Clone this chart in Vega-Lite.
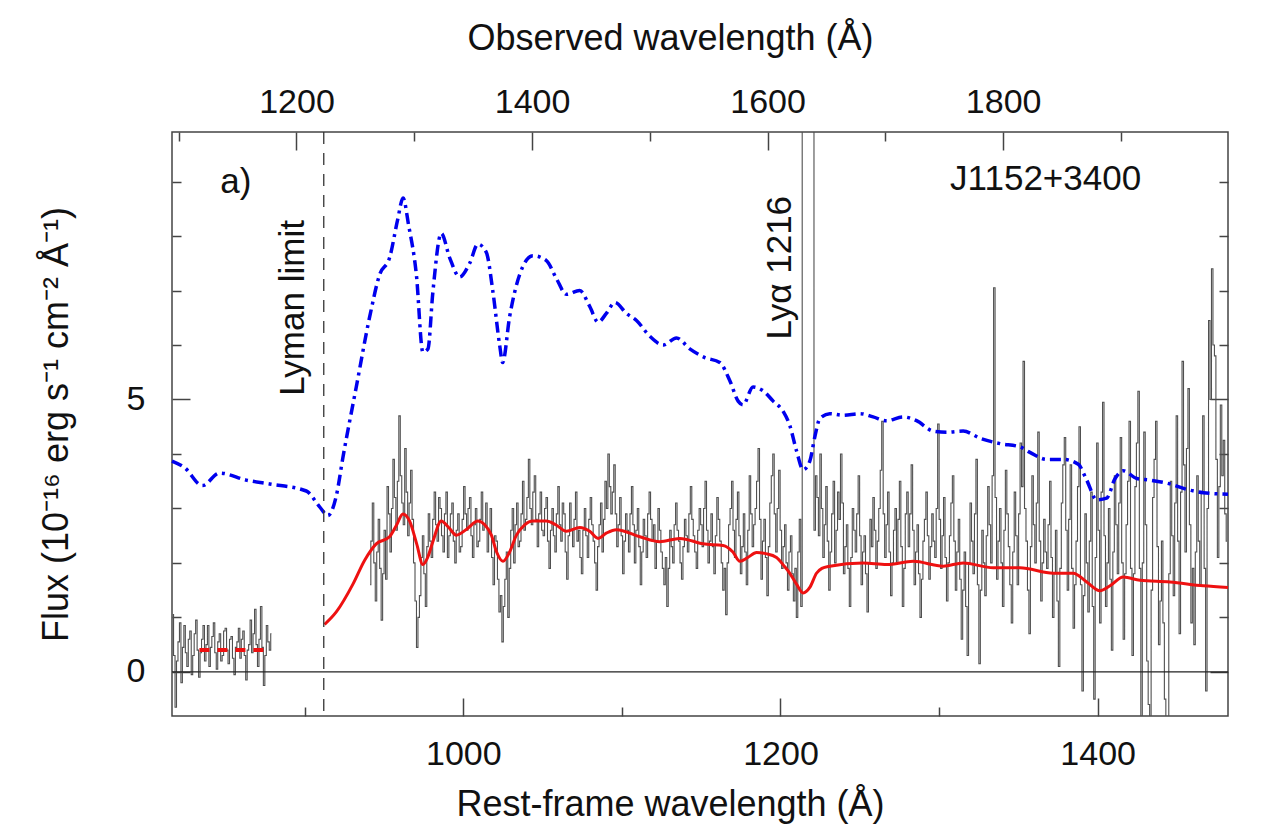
{
  "$schema": "https://vega.github.io/schema/vega-lite/v6.json",
  "width": 1056,
  "height": 584,
  "autosize": {"type": "none"},
  "padding": {"left": 172, "top": 132, "right": 44, "bottom": 111},
  "background": "white",
  "config": {
    "font": "Liberation Sans",
    "view": {"stroke": "#444444", "strokeWidth": 1.5},
    "axis": {
      "domain": false, "grid": false, "tickColor": "#444444", "tickWidth": 1.5,
      "labelFont": "Liberation Sans", "labelFontSize": 34, "labelColor": "#111111",
      "titleFont": "Liberation Sans", "titleFontSize": 36, "titleFontWeight": "normal", "titleColor": "#111111",
      "labelOverlap": false, "labelFlush": false
    }
  },
  "datasets": {
    "spec": [
      {"o":1095,"f":1.05,"s":1},{"o":1096.25,"f":0.3,"s":1},{"o":1097.5,"f":-0.65,"s":1},{"o":1098.75,"f":0.2,"s":1},
      {"o":1100,"f":0.55,"s":1},{"o":1101.25,"f":0.9,"s":1},{"o":1102.5,"f":-0.2,"s":1},{"o":1103.75,"f":0.45,"s":1},
      {"o":1105,"f":0.85,"s":1},{"o":1106.25,"f":0.35,"s":1},{"o":1107.5,"f":0.1,"s":1},{"o":1108.75,"f":0.6,"s":1},
      {"o":1110,"f":0.75,"s":1},{"o":1111.25,"f":-0.05,"s":1},{"o":1112.5,"f":0.3,"s":1},{"o":1113.75,"f":0.7,"s":1},
      {"o":1115,"f":0.95,"s":1},{"o":1116.25,"f":0.4,"s":1},{"o":1117.5,"f":-0.1,"s":1},{"o":1118.75,"f":0.35,"s":1},
      {"o":1120,"f":0.6,"s":1},{"o":1121.25,"f":0.85,"s":1},{"o":1122.5,"f":0.2,"s":1},{"o":1123.75,"f":0.5,"s":1},
      {"o":1125,"f":0.85,"s":1},{"o":1126.25,"f":0.1,"s":1},{"o":1127.5,"f":0.45,"s":1},{"o":1128.75,"f":0.65,"s":1},
      {"o":1130,"f":0.9,"s":1},{"o":1131.25,"f":0.35,"s":1},{"o":1132.5,"f":0.05,"s":1},{"o":1133.75,"f":0.55,"s":1},
      {"o":1135,"f":0.7,"s":1},{"o":1136.25,"f":0.2,"s":1},{"o":1137.5,"f":0.3,"s":1},{"o":1138.75,"f":0.75,"s":1},
      {"o":1140,"f":0.8,"s":1},{"o":1141.25,"f":0.4,"s":1},{"o":1142.5,"f":0.15,"s":1},{"o":1143.75,"f":0.6,"s":1},
      {"o":1145,"f":0.65,"s":1},{"o":1146.25,"f":0.25,"s":1},{"o":1147.5,"f":-0.05,"s":1},{"o":1148.75,"f":0.45,"s":1},
      {"o":1150,"f":0.55,"s":1},{"o":1151.25,"f":0.8,"s":1},{"o":1152.5,"f":0.25,"s":1},{"o":1153.75,"f":0.6,"s":1},
      {"o":1155,"f":0.75,"s":1},{"o":1156.25,"f":0.3,"s":1},{"o":1157.5,"f":-0.15,"s":1},{"o":1158.75,"f":0.4,"s":1},
      {"o":1160,"f":0.5,"s":1},{"o":1161.25,"f":0.95,"s":1},{"o":1162.5,"f":0.35,"s":1},{"o":1163.75,"f":0.7,"s":1},
      {"o":1165,"f":1.15,"s":1},{"o":1166.25,"f":0.5,"s":1},{"o":1167.5,"f":0.1,"s":1},{"o":1168.75,"f":0.6,"s":1},
      {"o":1170,"f":1.2,"s":1},{"o":1171.25,"f":0.45,"s":1},{"o":1172.5,"f":-0.25,"s":1},{"o":1173.75,"f":0.3,"s":1},
      {"o":1175,"f":0.85,"s":1},{"o":1176.25,"f":0.55,"s":1},{"o":1177.5,"f":0.4,"s":1},{"o":1178.75,"f":0.7,"s":1},

      {"o":1262.5,"f":1.6,"s":2},{"o":1263.75,"f":2.4,"s":2},{"o":1265,"f":3.1,"s":2},{"o":1266.25,"f":2.0,"s":2},
      {"o":1267.5,"f":1.3,"s":2},{"o":1268.75,"f":2.2,"s":2},{"o":1270,"f":2.8,"s":2},{"o":1271.25,"f":1.9,"s":2},
      {"o":1272.5,"f":0.95,"s":2},{"o":1273.75,"f":1.8,"s":2},{"o":1275,"f":2.6,"s":2},{"o":1276.25,"f":1.7,"s":2},
      {"o":1277.5,"f":3.4,"s":2},{"o":1278.75,"f":2.9,"s":2},{"o":1280,"f":2.2,"s":2},{"o":1281.25,"f":3.0,"s":2},
      {"o":1282.5,"f":3.9,"s":2},{"o":1283.75,"f":3.2,"s":2},{"o":1285,"f":2.6,"s":2},{"o":1286.25,"f":3.5,"s":2},
      {"o":1287.5,"f":4.7,"s":2},{"o":1288.75,"f":3.6,"s":2},{"o":1290,"f":3.1,"s":2},{"o":1291.25,"f":2.7,"s":2},
      {"o":1292.5,"f":4.1,"s":2},{"o":1293.75,"f":3.3,"s":2},{"o":1295,"f":2.5,"s":2},{"o":1296.25,"f":3.1,"s":2},
      {"o":1297.5,"f":3.7,"s":2},{"o":1298.75,"f":2.8,"s":2},{"o":1300,"f":2.0,"s":2},{"o":1301.25,"f":1.3,"s":2},
      {"o":1302.5,"f":0.45,"s":2},{"o":1303.75,"f":1.0,"s":2},{"o":1305,"f":1.4,"s":2},{"o":1306.25,"f":2.1,"s":2},
      {"o":1307.5,"f":2.5,"s":2},{"o":1308.75,"f":1.8,"s":2},{"o":1310,"f":1.2,"s":2},{"o":1311.25,"f":2.3,"s":2},
      {"o":1312.5,"f":2.9,"s":2},{"o":1313.75,"f":2.4,"s":2},{"o":1315,"f":2.1,"s":2},{"o":1316.25,"f":2.8,"s":2},
      {"o":1317.5,"f":3.3,"s":2},{"o":1318.75,"f":2.7,"s":2},{"o":1320,"f":2.4,"s":2},{"o":1321.25,"f":3.2,"s":2},
      {"o":1322.5,"f":3.0,"s":2},{"o":1323.75,"f":2.5,"s":2},{"o":1325,"f":2.2,"s":2},{"o":1326.25,"f":2.9,"s":2},
      {"o":1327.5,"f":3.3,"s":2},{"o":1328.75,"f":2.1,"s":2},{"o":1330,"f":2.5,"s":2},{"o":1331.25,"f":2.9,"s":2},
      {"o":1332.5,"f":3.1,"s":2},{"o":1333.75,"f":2.4,"s":2},{"o":1335,"f":2.0,"s":2},{"o":1336.25,"f":2.6,"s":2},
      {"o":1337.5,"f":2.9,"s":2},{"o":1338.75,"f":2.2,"s":2},{"o":1340,"f":2.3,"s":2},{"o":1341.25,"f":2.8,"s":2},
      {"o":1342.5,"f":3.4,"s":2},{"o":1343.75,"f":2.9,"s":2},{"o":1345,"f":2.6,"s":2},{"o":1346.25,"f":3.0,"s":2},
      {"o":1347.5,"f":3.2,"s":2},{"o":1348.75,"f":2.5,"s":2},{"o":1350,"f":2.1,"s":2},{"o":1351.25,"f":2.7,"s":2},
      {"o":1352.5,"f":3.0,"s":2},{"o":1353.75,"f":2.3,"s":2},{"o":1355,"f":2.4,"s":2},{"o":1356.25,"f":2.8,"s":2},
      {"o":1357.5,"f":3.3,"s":2},{"o":1358.75,"f":2.6,"s":2},{"o":1360,"f":2.7,"s":2},{"o":1361.25,"f":3.1,"s":2},
      {"o":1362.5,"f":2.2,"s":2},{"o":1363.75,"f":2.6,"s":2},{"o":1365,"f":3.0,"s":2},{"o":1366.25,"f":2.1,"s":2},
      {"o":1367.5,"f":1.6,"s":2},{"o":1368.75,"f":2.5,"s":2},{"o":1370,"f":2.4,"s":2},{"o":1371.25,"f":1.7,"s":2},
      {"o":1372.5,"f":1.1,"s":2},{"o":1373.75,"f":1.4,"s":2},{"o":1375,"f":0.55,"s":2},{"o":1376.25,"f":1.2,"s":2},
      {"o":1377.5,"f":1.7,"s":2},{"o":1378.75,"f":2.2,"s":2},{"o":1380,"f":1.0,"s":2},{"o":1381.25,"f":1.9,"s":2},
      {"o":1382.5,"f":2.6,"s":2},{"o":1383.75,"f":3.0,"s":2},{"o":1385,"f":2.0,"s":2},{"o":1386.25,"f":2.7,"s":2},
      {"o":1387.5,"f":3.1,"s":2},{"o":1388.75,"f":2.3,"s":2},{"o":1390,"f":2.4,"s":2},{"o":1391.25,"f":2.9,"s":2},
      {"o":1392.5,"f":3.5,"s":2},{"o":1393.75,"f":2.6,"s":2},{"o":1395,"f":2.8,"s":2},{"o":1396.25,"f":3.2,"s":2},
      {"o":1397.5,"f":3.9,"s":2},{"o":1398.75,"f":3.0,"s":2},{"o":1400,"f":2.7,"s":2},{"o":1401.25,"f":3.3,"s":2},
      {"o":1402.5,"f":3.6,"s":2},{"o":1403.75,"f":2.8,"s":2},{"o":1405,"f":2.3,"s":2},{"o":1406.25,"f":2.9,"s":2},
      {"o":1407.5,"f":3.3,"s":2},{"o":1408.75,"f":2.6,"s":2},{"o":1410,"f":2.5,"s":2},{"o":1411.25,"f":3.0,"s":2},
      {"o":1412.5,"f":3.2,"s":2},{"o":1413.75,"f":2.4,"s":2},{"o":1415,"f":1.9,"s":2},{"o":1416.25,"f":2.6,"s":2},
      {"o":1417.5,"f":3.0,"s":2},{"o":1418.75,"f":2.5,"s":2},{"o":1420,"f":2.2,"s":2},{"o":1421.25,"f":2.9,"s":2},
      {"o":1422.5,"f":3.4,"s":2},{"o":1423.75,"f":2.7,"s":2},{"o":1425,"f":2.4,"s":2},{"o":1426.25,"f":3.1,"s":2},
      {"o":1427.5,"f":2.9,"s":2},{"o":1428.75,"f":2.2,"s":2},{"o":1430,"f":1.7,"s":2},{"o":1431.25,"f":2.5,"s":2},
      {"o":1432.5,"f":3.1,"s":2},{"o":1433.75,"f":2.6,"s":2},{"o":1435,"f":2.3,"s":2},{"o":1436.25,"f":2.8,"s":2},
      {"o":1437.5,"f":3.3,"s":2},{"o":1438.75,"f":2.4,"s":2},{"o":1440,"f":2.6,"s":2},{"o":1441.25,"f":2.1,"s":2},
      {"o":1442.5,"f":1.8,"s":2},{"o":1443.75,"f":2.6,"s":2},{"o":1445,"f":3.0,"s":2},{"o":1446.25,"f":2.5,"s":2},
      {"o":1447.5,"f":2.1,"s":2},{"o":1448.75,"f":2.8,"s":2},{"o":1450,"f":3.2,"s":2},{"o":1451.25,"f":2.7,"s":2},
      {"o":1452.5,"f":2.4,"s":2},{"o":1453.75,"f":2.0,"s":2},{"o":1455,"f":1.5,"s":2},{"o":1456.25,"f":2.3,"s":2},
      {"o":1457.5,"f":2.7,"s":2},{"o":1458.75,"f":3.1,"s":2},{"o":1460,"f":2.2,"s":2},{"o":1461.25,"f":2.8,"s":2},
      {"o":1462.5,"f":3.5,"s":2},{"o":1463.75,"f":3.0,"s":2},{"o":1465,"f":4.0,"s":2},{"o":1466.25,"f":3.4,"s":2},
      {"o":1467.5,"f":2.9,"s":2},{"o":1468.75,"f":3.3,"s":2},{"o":1470,"f":3.8,"s":2},{"o":1471.25,"f":2.9,"s":2},
      {"o":1472.5,"f":2.3,"s":2},{"o":1473.75,"f":2.7,"s":2},{"o":1475,"f":3.2,"s":2},{"o":1476.25,"f":2.5,"s":2},
      {"o":1477.5,"f":1.8,"s":2},{"o":1478.75,"f":2.4,"s":2},{"o":1480,"f":2.9,"s":2},{"o":1481.25,"f":2.6,"s":2},
      {"o":1482.5,"f":2.2,"s":2},{"o":1483.75,"f":2.9,"s":2},{"o":1485,"f":3.4,"s":2},{"o":1486.25,"f":2.7,"s":2},
      {"o":1487.5,"f":2.0,"s":2},{"o":1488.75,"f":2.6,"s":2},{"o":1490,"f":3.0,"s":2},{"o":1491.25,"f":2.3,"s":2},
      {"o":1492.5,"f":1.6,"s":2},{"o":1493.75,"f":2.2,"s":2},{"o":1495,"f":2.8,"s":2},{"o":1496.25,"f":2.5,"s":2},
      {"o":1497.5,"f":2.1,"s":2},{"o":1498.75,"f":2.9,"s":2},{"o":1500,"f":3.3,"s":2},{"o":1501.25,"f":2.8,"s":2},
      {"o":1502.5,"f":2.4,"s":2},{"o":1503.75,"f":2.7,"s":2},{"o":1505,"f":1.9,"s":2},{"o":1506.25,"f":2.4,"s":2},
      {"o":1507.5,"f":3.0,"s":2},{"o":1508.75,"f":2.6,"s":2},{"o":1510,"f":2.2,"s":2},{"o":1511.25,"f":1.9,"s":2},
      {"o":1512.5,"f":1.6,"s":2},{"o":1513.75,"f":2.1,"s":2},{"o":1515,"f":1.2,"s":2},{"o":1516.25,"f":1.9,"s":2},
      {"o":1517.5,"f":2.6,"s":2},{"o":1518.75,"f":2.3,"s":2},{"o":1520,"f":2.0,"s":2},{"o":1521.25,"f":2.7,"s":2},
      {"o":1522.5,"f":3.1,"s":2},{"o":1523.75,"f":2.6,"s":2},{"o":1525,"f":2.4,"s":2},{"o":1526.25,"f":2.0,"s":2},
      {"o":1527.5,"f":1.7,"s":2},{"o":1528.75,"f":2.3,"s":2},{"o":1530,"f":2.8,"s":2},{"o":1531.25,"f":2.5,"s":2},
      {"o":1532.5,"f":2.2,"s":2},{"o":1533.75,"f":2.9,"s":2},{"o":1535,"f":3.4,"s":2},{"o":1536.25,"f":2.8,"s":2},
      {"o":1537.5,"f":2.5,"s":2},{"o":1538.75,"f":2.2,"s":2},{"o":1540,"f":1.9,"s":2},{"o":1541.25,"f":2.6,"s":2},
      {"o":1542.5,"f":3.0,"s":2},{"o":1543.75,"f":2.7,"s":2},{"o":1545,"f":2.3,"s":2},{"o":1546.25,"f":3.0,"s":2},
      {"o":1547.5,"f":3.5,"s":2},{"o":1548.75,"f":2.6,"s":2},{"o":1550,"f":2.0,"s":2},{"o":1551.25,"f":2.4,"s":2},
      {"o":1552.5,"f":2.9,"s":2},{"o":1553.75,"f":2.3,"s":2},{"o":1555,"f":1.8,"s":2},{"o":1556.25,"f":2.5,"s":2},
      {"o":1557.5,"f":3.2,"s":2},{"o":1558.75,"f":2.8,"s":2},{"o":1560,"f":2.4,"s":2},{"o":1561.25,"f":2.0,"s":2},
      {"o":1562.5,"f":1.5,"s":2},{"o":1563.75,"f":1.9,"s":2},{"o":1565,"f":1.05,"s":2},{"o":1566.25,"f":2.0,"s":2},
      {"o":1567.5,"f":2.7,"s":2},{"o":1568.75,"f":3.0,"s":2},{"o":1570,"f":3.5,"s":2},{"o":1571.25,"f":2.6,"s":2},
      {"o":1572.5,"f":2.1,"s":2},{"o":1573.75,"f":2.8,"s":2},{"o":1575,"f":3.3,"s":2},{"o":1576.25,"f":2.5,"s":2},
      {"o":1577.5,"f":1.8,"s":2},{"o":1578.75,"f":2.3,"s":2},{"o":1580,"f":2.9,"s":2},{"o":1581.25,"f":2.2,"s":2},
      {"o":1582.5,"f":1.6,"s":2},{"o":1583.75,"f":2.6,"s":2},{"o":1585,"f":3.6,"s":2},{"o":1586.25,"f":2.9,"s":2},
      {"o":1587.5,"f":2.3,"s":2},{"o":1588.75,"f":2.7,"s":2},{"o":1590,"f":3.0,"s":2},{"o":1591.25,"f":3.5,"s":2},
      {"o":1592.5,"f":4.1,"s":2},{"o":1593.75,"f":2.8,"s":2},{"o":1595,"f":1.7,"s":2},{"o":1596.25,"f":2.4,"s":2},
      {"o":1597.5,"f":2.8,"s":2},{"o":1598.75,"f":2.1,"s":2},{"o":1600,"f":1.4,"s":2},{"o":1601.25,"f":2.3,"s":2},
      {"o":1602.5,"f":3.1,"s":2},{"o":1603.75,"f":3.6,"s":2},{"o":1605,"f":4.0,"s":2},{"o":1606.25,"f":2.9,"s":2},
      {"o":1607.5,"f":2.2,"s":2},{"o":1608.75,"f":3.0,"s":2},{"o":1610,"f":3.7,"s":2},{"o":1611.25,"f":2.6,"s":2},
      {"o":1612.5,"f":1.9,"s":2},{"o":1613.75,"f":2.3,"s":2},{"o":1615,"f":2.7,"s":2},{"o":1616.25,"f":2.0,"s":2},
      {"o":1617.5,"f":1.5,"s":2},{"o":1618.75,"f":2.2,"s":2},{"o":1620,"f":2.5,"s":2},{"o":1621.25,"f":1.8,"s":2},
      {"o":1622.5,"f":1.3,"s":2},{"o":1623.75,"f":1.9,"s":2},{"o":1625,"f":1.0,"s":2},{"o":1626.25,"f":2.2,"s":2},
      {"o":1627.5,"f":2.8,"s":2},{"o":1628.75,"f":1.2,"s":2},{"o":1630,"f":14,"s":2},{"o":1631.25,"f":17,"s":2},
      {"o":1632.5,"f":19,"s":2},{"o":1633.75,"f":18,"s":2},{"o":1635,"f":17,"s":2},{"o":1636.25,"f":15,"s":2},
      {"o":1637.5,"f":13,"s":2},{"o":1638.75,"f":11,"s":2},{"o":1640,"f":2.6,"s":2},{"o":1641.25,"f":3.6,"s":2},
      {"o":1642.5,"f":3.2,"s":2},{"o":1643.75,"f":2.5,"s":2},{"o":1645,"f":4.0,"s":2},{"o":1646.25,"f":3.0,"s":2},
      {"o":1647.5,"f":2.1,"s":2},{"o":1648.75,"f":2.7,"s":2},{"o":1650,"f":3.4,"s":2},{"o":1651.25,"f":2.4,"s":2},
      {"o":1652.5,"f":1.5,"s":2},{"o":1653.75,"f":2.2,"s":2},{"o":1655,"f":2.9,"s":2},{"o":1656.25,"f":3.5,"s":2},
      {"o":1657.5,"f":2.0,"s":2},{"o":1658.75,"f":2.6,"s":2},{"o":1660,"f":3.3,"s":2},{"o":1661.25,"f":2.8,"s":2},
      {"o":1662.5,"f":4.0,"s":2},{"o":1663.75,"f":3.1,"s":2},{"o":1665,"f":1.8,"s":2},{"o":1666.25,"f":2.3,"s":2},
      {"o":1667.5,"f":2.7,"s":2},{"o":1668.75,"f":1.9,"s":2},{"o":1670,"f":1.2,"s":2},{"o":1671.25,"f":2.1,"s":2},
      {"o":1672.5,"f":3.0,"s":2},{"o":1673.75,"f":2.6,"s":2},{"o":1675,"f":2.2,"s":2},{"o":1676.25,"f":2.9,"s":2},
      {"o":1677.5,"f":3.6,"s":2},{"o":1678.75,"f":2.5,"s":2},{"o":1680,"f":1.6,"s":2},{"o":1681.25,"f":2.2,"s":2},
      {"o":1682.5,"f":2.5,"s":2},{"o":1683.75,"f":1.8,"s":2},{"o":1685,"f":1.1,"s":2},{"o":1686.25,"f":2.0,"s":2},
      {"o":1687.5,"f":2.8,"s":2},{"o":1688.75,"f":2.3,"s":2},{"o":1690,"f":3.2,"s":2},{"o":1691.25,"f":2.6,"s":2},
      {"o":1692.5,"f":1.9,"s":2},{"o":1693.75,"f":2.4,"s":2},{"o":1695,"f":3.0,"s":2},{"o":1696.25,"f":3.7,"s":2},
      {"o":1697.5,"f":4.6,"s":2},{"o":1698.75,"f":2.9,"s":2},{"o":1700,"f":2.1,"s":2},{"o":1701.25,"f":2.7,"s":2},
      {"o":1702.5,"f":3.3,"s":2},{"o":1703.75,"f":2.2,"s":2},{"o":1705,"f":1.4,"s":2},{"o":1706.25,"f":2.0,"s":2},
      {"o":1707.5,"f":2.6,"s":2},{"o":1708.75,"f":3.0,"s":2},{"o":1710,"f":2.0,"s":2},{"o":1711.25,"f":2.8,"s":2},
      {"o":1712.5,"f":3.5,"s":2},{"o":1713.75,"f":2.3,"s":2},{"o":1715,"f":1.2,"s":2},{"o":1716.25,"f":1.9,"s":2},
      {"o":1717.5,"f":2.9,"s":2},{"o":1718.75,"f":3.3,"s":2},{"o":1720,"f":2.3,"s":2},{"o":1721.25,"f":2.9,"s":2},
      {"o":1722.5,"f":3.8,"s":2},{"o":1723.75,"f":2.6,"s":2},{"o":1725,"f":1.6,"s":2},{"o":1726.25,"f":2.2,"s":2},
      {"o":1727.5,"f":2.7,"s":2},{"o":1728.75,"f":1.8,"s":2},{"o":1730,"f":1.0,"s":2},{"o":1731.25,"f":1.7,"s":2},
      {"o":1732.5,"f":2.4,"s":2},{"o":1733.75,"f":2.8,"s":2},{"o":1735,"f":3.3,"s":2},{"o":1736.25,"f":2.5,"s":2},
      {"o":1737.5,"f":1.7,"s":2},{"o":1738.75,"f":2.3,"s":2},{"o":1740,"f":2.9,"s":2},{"o":1741.25,"f":2.4,"s":2},
      {"o":1742.5,"f":2.1,"s":2},{"o":1743.75,"f":3.0,"s":2},{"o":1745,"f":4.55,"s":2},{"o":1746.25,"f":2.8,"s":2},
      {"o":1747.5,"f":1.9,"s":2},{"o":1748.75,"f":2.5,"s":2},{"o":1750,"f":3.2,"s":2},{"o":1751.25,"f":2.1,"s":2},
      {"o":1752.5,"f":1.3,"s":2},{"o":1753.75,"f":2.0,"s":2},{"o":1755,"f":2.5,"s":2},{"o":1756.25,"f":3.1,"s":2},
      {"o":1757.5,"f":3.6,"s":2},{"o":1758.75,"f":2.4,"s":2},{"o":1760,"f":1.5,"s":2},{"o":1761.25,"f":2.2,"s":2},
      {"o":1762.5,"f":2.8,"s":2},{"o":1763.75,"f":1.7,"s":2},{"o":1765,"f":0.6,"s":2},{"o":1766.25,"f":1.5,"s":2},
      {"o":1767.5,"f":2.2,"s":2},{"o":1768.75,"f":1.2,"s":2},{"o":1770,"f":0.3,"s":2},{"o":1771.25,"f":2.0,"s":2},
      {"o":1772.5,"f":3.1,"s":2},{"o":1773.75,"f":2.4,"s":2},{"o":1775,"f":1.8,"s":2},{"o":1776.25,"f":2.9,"s":2},
      {"o":1777.5,"f":3.9,"s":2},{"o":1778.75,"f":1.6,"s":2},{"o":1780,"f":0.15,"s":2},{"o":1781.25,"f":1.5,"s":2},
      {"o":1782.5,"f":2.6,"s":2},{"o":1783.75,"f":2.0,"s":2},{"o":1785,"f":1.4,"s":2},{"o":1786.25,"f":2.5,"s":2},
      {"o":1787.5,"f":3.4,"s":2},{"o":1788.75,"f":2.7,"s":2},{"o":1790,"f":2.0,"s":2},{"o":1791.25,"f":3.6,"s":2},
      {"o":1792.5,"f":7.05,"s":2},{"o":1793.75,"f":3.2,"s":2},{"o":1795,"f":1.7,"s":2},{"o":1796.25,"f":2.4,"s":2},
      {"o":1797.5,"f":3.0,"s":2},{"o":1798.75,"f":2.0,"s":2},{"o":1800,"f":1.2,"s":2},{"o":1801.25,"f":2.6,"s":2},
      {"o":1802.5,"f":3.7,"s":2},{"o":1803.75,"f":2.9,"s":2},{"o":1805,"f":2.3,"s":2},{"o":1806.25,"f":1.6,"s":2},
      {"o":1807.5,"f":0.9,"s":2},{"o":1808.75,"f":2.2,"s":2},{"o":1810,"f":3.3,"s":2},{"o":1811.25,"f":2.5,"s":2},
      {"o":1812.5,"f":1.6,"s":2},{"o":1813.75,"f":2.9,"s":2},{"o":1815,"f":4.2,"s":2},{"o":1816.25,"f":3.4,"s":2},
      {"o":1817.5,"f":5.7,"s":2},{"o":1818.75,"f":3.0,"s":2},{"o":1820,"f":2.4,"s":2},{"o":1821.25,"f":1.5,"s":2},
      {"o":1822.5,"f":0.7,"s":2},{"o":1823.75,"f":2.3,"s":2},{"o":1825,"f":3.6,"s":2},{"o":1826.25,"f":2.7,"s":2},
      {"o":1827.5,"f":2.0,"s":2},{"o":1828.75,"f":3.1,"s":2},{"o":1830,"f":4.4,"s":2},{"o":1831.25,"f":2.4,"s":2},
      {"o":1832.5,"f":1.3,"s":2},{"o":1833.75,"f":2.0,"s":2},{"o":1835,"f":2.8,"s":2},{"o":1836.25,"f":2.2,"s":2},
      {"o":1837.5,"f":1.9,"s":2},{"o":1838.75,"f":2.7,"s":2},{"o":1840,"f":3.5,"s":2},{"o":1841.25,"f":2.1,"s":2},
      {"o":1842.5,"f":1.0,"s":2},{"o":1843.75,"f":1.8,"s":2},{"o":1845,"f":2.6,"s":2},{"o":1846.25,"f":1.3,"s":2},
      {"o":1847.5,"f":0.1,"s":2},{"o":1848.75,"f":1.9,"s":2},{"o":1850,"f":3.1,"s":2},{"o":1851.25,"f":3.8,"s":2},
      {"o":1852.5,"f":4.3,"s":2},{"o":1853.75,"f":2.6,"s":2},{"o":1855,"f":1.5,"s":2},{"o":1856.25,"f":2.8,"s":2},
      {"o":1857.5,"f":3.8,"s":2},{"o":1858.75,"f":1.9,"s":2},{"o":1860,"f":0.8,"s":2},{"o":1861.25,"f":1.6,"s":2},
      {"o":1862.5,"f":2.4,"s":2},{"o":1863.75,"f":3.4,"s":2},{"o":1865,"f":4.5,"s":2},{"o":1866.25,"f":1.6,"s":2},
      {"o":1867.5,"f":-0.35,"s":2},{"o":1868.75,"f":1.4,"s":2},{"o":1870,"f":2.9,"s":2},{"o":1871.25,"f":2.0,"s":2},
      {"o":1872.5,"f":1.1,"s":2},{"o":1873.75,"f":2.4,"s":2},{"o":1875,"f":3.3,"s":2},{"o":1876.25,"f":1.2,"s":2},
      {"o":1877.5,"f":-0.5,"s":2},{"o":1878.75,"f":2.1,"s":2},{"o":1880,"f":4.2,"s":2},{"o":1881.25,"f":2.6,"s":2},
      {"o":1882.5,"f":0.9,"s":2},{"o":1883.75,"f":3.3,"s":2},{"o":1885,"f":4.95,"s":2},{"o":1886.25,"f":2.5,"s":2},
      {"o":1887.5,"f":1.2,"s":2},{"o":1888.75,"f":2.0,"s":2},{"o":1890,"f":3.0,"s":2},{"o":1891.25,"f":1.7,"s":2},
      {"o":1892.5,"f":0.4,"s":2},{"o":1893.75,"f":2.2,"s":2},{"o":1895,"f":3.6,"s":2},{"o":1896.25,"f":2.7,"s":2},
      {"o":1897.5,"f":1.8,"s":2},{"o":1898.75,"f":3.1,"s":2},{"o":1900,"f":4.3,"s":2},{"o":1901.25,"f":2.0,"s":2},
      {"o":1902.5,"f":0.6,"s":2},{"o":1903.75,"f":1.8,"s":2},{"o":1905,"f":2.7,"s":2},{"o":1906.25,"f":3.5,"s":2},
      {"o":1907.5,"f":4.6,"s":2},{"o":1908.75,"f":1.9,"s":2},{"o":1910,"f":0.3,"s":2},{"o":1911.25,"f":1.8,"s":2},
      {"o":1912.5,"f":3.4,"s":2},{"o":1913.75,"f":4.2,"s":2},{"o":1915,"f":5.15,"s":2},{"o":1916.25,"f":1.9,"s":2},
      {"o":1917.5,"f":-1.5,"s":2},{"o":1918.75,"f":2.0,"s":2},{"o":1920,"f":4.4,"s":2},{"o":1921.25,"f":2.7,"s":2},
      {"o":1922.5,"f":0.2,"s":2},{"o":1923.75,"f":-0.6,"s":2},{"o":1925,"f":-1.2,"s":2},{"o":1926.25,"f":1.5,"s":2},
      {"o":1927.5,"f":3.2,"s":2},{"o":1928.75,"f":3.9,"s":2},{"o":1930,"f":4.6,"s":2},{"o":1931.25,"f":2.3,"s":2},
      {"o":1932.5,"f":0.5,"s":2},{"o":1933.75,"f":1.3,"s":2},{"o":1935,"f":2.4,"s":2},{"o":1936.25,"f":0.9,"s":2},
      {"o":1937.5,"f":-0.5,"s":2},{"o":1938.75,"f":-1.0,"s":2},{"o":1940,"f":-1.3,"s":2},{"o":1941.25,"f":1.8,"s":2},
      {"o":1942.5,"f":3.5,"s":2},{"o":1943.75,"f":2.5,"s":2},{"o":1945,"f":1.4,"s":2},{"o":1946.25,"f":3.1,"s":2},
      {"o":1947.5,"f":4.7,"s":2},{"o":1948.75,"f":2.4,"s":2},{"o":1950,"f":0.7,"s":2},{"o":1951.25,"f":3.3,"s":2},
      {"o":1952.5,"f":5.7,"s":2},{"o":1953.75,"f":3.8,"s":2},{"o":1955,"f":2.2,"s":2},{"o":1956.25,"f":4.1,"s":2},
      {"o":1957.5,"f":5.2,"s":2},{"o":1958.75,"f":2.7,"s":2},{"o":1960,"f":0.9,"s":2},{"o":1961.25,"f":1.9,"s":2},
      {"o":1962.5,"f":0.5,"s":2},{"o":1963.75,"f":2.2,"s":2},{"o":1965,"f":3.6,"s":2},{"o":1966.25,"f":2.4,"s":2},
      {"o":1967.5,"f":1.6,"s":2},{"o":1968.75,"f":3.3,"s":2},{"o":1970,"f":4.7,"s":2},{"o":1971.25,"f":1.9,"s":2},
      {"o":1972.5,"f":-0.35,"s":2},{"o":1973.75,"f":3.0,"s":2},{"o":1975,"f":6.45,"s":2},{"o":1976.25,"f":5.0,"s":2},
      {"o":1977.5,"f":7.4,"s":2},{"o":1978.75,"f":6.0,"s":2},{"o":1980,"f":5.8,"s":2},{"o":1981.25,"f":3.9,"s":2},
      {"o":1982.5,"f":2.1,"s":2},{"o":1983.75,"f":3.4,"s":2},{"o":1985,"f":4.9,"s":2},{"o":1986.25,"f":3.6,"s":2},
      {"o":1987.5,"f":4.25,"s":2},{"o":1988.75,"f":2.9,"s":2},{"o":1990,"f":2.4,"s":2}
    ],
    "blue": [
      {"lam":816.3,"flux":3.87},{"lam":824.2,"flux":3.75},{"lam":835.5,"flux":3.42},{"lam":846.3,"flux":3.65},
      {"lam":863.1,"flux":3.52},{"lam":877.8,"flux":3.45},{"lam":901.0,"flux":3.32},{"lam":909.4,"flux":3.03},
      {"lam":914.6,"flux":2.87},{"lam":919.9,"flux":3.23},{"lam":924.1,"flux":3.94},{"lam":932.5,"flux":5.23},
      {"lam":940.9,"flux":6.51},{"lam":947.2,"flux":7.29},{"lam":953.6,"flux":7.61},{"lam":958.6,"flux":8.3},
      {"lam":962.0,"flux":8.7},{"lam":965.5,"flux":8.2},{"lam":970.4,"flux":7.29},{"lam":974.5,"flux":5.87},
      {"lam":977.7,"flux":5.93},{"lam":980.8,"flux":6.97},{"lam":986.1,"flux":8.05},{"lam":991.4,"flux":7.6},
      {"lam":997.7,"flux":7.25},{"lam":1004.0,"flux":7.5},{"lam":1009.2,"flux":7.85},{"lam":1014.5,"flux":7.7},
      {"lam":1018.7,"flux":6.97},{"lam":1022.9,"flux":6.0},{"lam":1024.8,"flux":5.68},{"lam":1029.2,"flux":6.52},
      {"lam":1035.5,"flux":7.29},{"lam":1043.9,"flux":7.64},{"lam":1052.4,"flux":7.55},{"lam":1058.7,"flux":7.22},
      {"lam":1065.0,"flux":6.93},{"lam":1073.4,"flux":7.0},{"lam":1079.7,"flux":6.71},{"lam":1085.0,"flux":6.42},
      {"lam":1090.2,"flux":6.58},{"lam":1095.5,"flux":6.78},{"lam":1102.9,"flux":6.58},{"lam":1109.2,"flux":6.45},
      {"lam":1117.6,"flux":6.16},{"lam":1126.0,"flux":6.0},{"lam":1134.4,"flux":6.13},{"lam":1142.8,"flux":5.93},
      {"lam":1152.3,"flux":5.77},{"lam":1161.7,"flux":5.68},{"lam":1168.0,"flux":5.35},{"lam":1173.3,"flux":4.97},
      {"lam":1176.4,"flux":4.9},{"lam":1182.7,"flux":5.23},{"lam":1189.0,"flux":5.16},{"lam":1195.4,"flux":4.97},
      {"lam":1201.7,"flux":4.78},{"lam":1205.9,"flux":4.52},{"lam":1210.1,"flux":4.06},{"lam":1214.3,"flux":3.71},
      {"lam":1218.5,"flux":3.87},{"lam":1221.7,"flux":4.32},{"lam":1224.8,"flux":4.65},{"lam":1231.1,"flux":4.74},
      {"lam":1239.5,"flux":4.71},{"lam":1250.1,"flux":4.74},{"lam":1258.4,"flux":4.68},{"lam":1266.9,"flux":4.61},
      {"lam":1277.4,"flux":4.68},{"lam":1285.8,"flux":4.61},{"lam":1296.3,"flux":4.42},{"lam":1304.7,"flux":4.40},
      {"lam":1315.2,"flux":4.42},{"lam":1325.8,"flux":4.29},{"lam":1338.4,"flux":4.19},{"lam":1351.0,"flux":4.13},
      {"lam":1357.3,"flux":4.03},{"lam":1367.9,"flux":3.90},{"lam":1378.3,"flux":3.90},{"lam":1387.8,"flux":3.81},
      {"lam":1393.1,"flux":3.52},{"lam":1399.4,"flux":3.16},{"lam":1405.7,"flux":3.19},{"lam":1411.0,"flux":3.55},
      {"lam":1416.2,"flux":3.69},{"lam":1424.6,"flux":3.55},{"lam":1433.0,"flux":3.52},{"lam":1445.6,"flux":3.45},
      {"lam":1456.2,"flux":3.35},{"lam":1466.6,"flux":3.29},{"lam":1482.2,"flux":3.26}
    ],
    "red": [
      {"lam":912.5,"flux":0.87},{"lam":919.9,"flux":1.10},{"lam":930.4,"flux":1.61},{"lam":937.8,"flux":2.05},
      {"lam":945.1,"flux":2.35},{"lam":953.5,"flux":2.48},{"lam":958.0,"flux":2.7},{"lam":961.9,"flux":2.90},
      {"lam":966.1,"flux":2.77},{"lam":970.6,"flux":2.35},{"lam":974.5,"flux":1.97},{"lam":977.5,"flux":2.1},
      {"lam":980.8,"flux":2.39},{"lam":986.1,"flux":2.77},{"lam":990.8,"flux":2.65},{"lam":995.6,"flux":2.51},
      {"lam":1002.1,"flux":2.62},{"lam":1009.2,"flux":2.77},{"lam":1013.5,"flux":2.7},{"lam":1017.7,"flux":2.51},
      {"lam":1021.0,"flux":2.2},{"lam":1025.0,"flux":2.03},{"lam":1029.2,"flux":2.2},{"lam":1033.5,"flux":2.51},
      {"lam":1038.7,"flux":2.7},{"lam":1043.9,"flux":2.77},{"lam":1052.4,"flux":2.77},{"lam":1058.3,"flux":2.7},
      {"lam":1065.0,"flux":2.58},{"lam":1073.4,"flux":2.65},{"lam":1079.7,"flux":2.58},{"lam":1085.0,"flux":2.45},
      {"lam":1090.4,"flux":2.55},{"lam":1096.5,"flux":2.61},{"lam":1111.3,"flux":2.48},{"lam":1123.9,"flux":2.39},
      {"lam":1136.5,"flux":2.45},{"lam":1151.2,"flux":2.35},{"lam":1163.8,"flux":2.32},{"lam":1170.0,"flux":2.2},
      {"lam":1174.4,"flux":2.03},{"lam":1179.4,"flux":2.1},{"lam":1184.9,"flux":2.19},{"lam":1190.8,"flux":2.17},
      {"lam":1197.5,"flux":2.10},{"lam":1202.1,"flux":1.95},{"lam":1205.9,"flux":1.81},{"lam":1210.3,"flux":1.6},
      {"lam":1214.3,"flux":1.45},{"lam":1218.5,"flux":1.55},{"lam":1222.7,"flux":1.81},{"lam":1226.1,"flux":1.9},
      {"lam":1231.1,"flux":1.94},{"lam":1252.1,"flux":2.0},{"lam":1266.9,"flux":1.97},{"lam":1283.7,"flux":2.03},
      {"lam":1302.6,"flux":1.94},{"lam":1315.2,"flux":2.0},{"lam":1334.2,"flux":1.91},{"lam":1351.0,"flux":1.91},
      {"lam":1372.0,"flux":1.81},{"lam":1384.6,"flux":1.81},{"lam":1393.1,"flux":1.65},{"lam":1401.5,"flux":1.49},
      {"lam":1407.8,"flux":1.58},{"lam":1416.2,"flux":1.74},{"lam":1426.7,"flux":1.68},{"lam":1445.6,"flux":1.65},
      {"lam":1466.6,"flux":1.58},{"lam":1482.2,"flux":1.55}
    ],
    "reddash": [{"lam":833.6,"flux":0.4},{"lam":876.0,"flux":0.4}],
    "zero": [{"flux":0}],
    "lyman": [{"lam":912}],
    "flatText": [
      {"lam":856.5,"flux":8.99,"label":"a)"},
      {"lam":1367.2,"flux":9.04,"label":"J1152+3400"}
    ],
    "upText": [
      {"lam":892.3,"flux":6.68,"label":"Lyman limit"},
      {"lam":1199.6,"flux":7.42,"label":"Lyα 1216"}
    ]
  },
  "resolve": {
    "scale": {"x": "independent", "y": "independent"},
    "axis": {"x": "independent", "y": "independent"}
  },
  "layer": [
    {
      "data": {"name": "spec"},
      "mark": {"type": "line", "interpolate": "step", "color": "#505050", "strokeWidth": 1.1, "clip": true},
      "encoding": {
        "x": {
          "field": "o", "type": "quantitative",
          "scale": {"domain": [1094.3, 1990.9], "nice": false, "zero": false},
          "axis": {
            "orient": "top", "title": "Observed wavelength (Å)", "format": "d",
            "values": [1100, 1200, 1300, 1400, 1500, 1600, 1700, 1800, 1900],
            "tickSize": {"condition": {"test": "datum.value % 200 === 0", "value": -18}, "value": -9},
            "labelExpr": "datum.value % 200 === 0 ? datum.label : ''",
            "labelPadding": 31, "titlePadding": 19, "titleX": 498
          }
        },
        "y": {
          "field": "f", "type": "quantitative",
          "scale": {"domain": [-0.81, 9.91], "nice": false, "zero": false},
          "axis": {
            "orient": "left", "title": "Flux (10⁻¹⁶ erg s⁻¹ cm⁻² Å⁻¹)",
            "values": [0, 1, 2, 3, 4, 5, 6, 7, 8, 9],
            "tickSize": {"condition": {"test": "datum.value % 5 === 0", "value": -18}, "value": -9},
            "labelExpr": "datum.value % 5 === 0 ? datum.label : ''",
            "labelPadding": 45, "titlePadding": 51
          }
        },
        "detail": {"field": "s", "type": "nominal"}
      }
    },
    {
      "layer": [
        {
          "data": {"name": "blue"},
          "mark": {"type": "line", "interpolate": "monotone", "color": "#0000ee", "strokeWidth": 3.5, "strokeDash": [11, 5, 3, 5]},
          "encoding": {
            "x": {
              "field": "lam", "type": "quantitative",
              "scale": {"domain": [816.3, 1482.2], "nice": false, "zero": false},
              "axis": {
                "orient": "bottom", "title": "Rest-frame wavelength (Å)", "format": "d",
                "values": [900, 1000, 1100, 1200, 1300, 1400],
                "tickSize": {"condition": {"test": "datum.value % 200 === 0", "value": -18}, "value": -9},
                "labelExpr": "datum.value % 200 === 0 ? datum.label : ''",
                "labelPadding": 39, "titlePadding": 7, "titleX": 498
              }
            },
            "y": {
              "field": "flux", "type": "quantitative",
              "scale": {"domain": [-0.81, 9.91], "nice": false, "zero": false},
              "axis": {
                "orient": "right", "title": null, "labels": false,
                "values": [0, 1, 2, 3, 4, 5, 6, 7, 8, 9],
                "tickSize": {"condition": {"test": "datum.value % 5 === 0", "value": -18}, "value": -9}
              }
            }
          }
        },
        {
          "data": {"name": "red"},
          "mark": {"type": "line", "interpolate": "monotone", "color": "#ee1111", "strokeWidth": 3},
          "encoding": {
            "x": {"field": "lam", "type": "quantitative", "scale": {"domain": [816.3, 1482.2], "nice": false, "zero": false}},
            "y": {"field": "flux", "type": "quantitative", "scale": {"domain": [-0.81, 9.91], "nice": false, "zero": false}}
          }
        },
        {
          "data": {"name": "reddash"},
          "mark": {"type": "line", "color": "#ee1111", "strokeWidth": 4, "strokeDash": [10, 8]},
          "encoding": {
            "x": {"field": "lam", "type": "quantitative", "scale": {"domain": [816.3, 1482.2], "nice": false, "zero": false}},
            "y": {"field": "flux", "type": "quantitative", "scale": {"domain": [-0.81, 9.91], "nice": false, "zero": false}}
          }
        },
        {
          "data": {"name": "zero"},
          "mark": {"type": "rule", "color": "#222222", "strokeWidth": 1.2},
          "encoding": {
            "y": {"field": "flux", "type": "quantitative", "scale": {"domain": [-0.81, 9.91], "nice": false, "zero": false}}
          }
        },
        {
          "data": {"name": "lyman"},
          "mark": {"type": "rule", "color": "#333333", "strokeWidth": 1.3, "strokeDash": [12, 9]},
          "encoding": {
            "x": {"field": "lam", "type": "quantitative", "scale": {"domain": [816.3, 1482.2], "nice": false, "zero": false}}
          }
        },
        {
          "data": {"name": "flatText"},
          "mark": {"type": "text", "font": "Liberation Sans", "fontSize": 35, "color": "#111111", "align": "center", "baseline": "middle"},
          "encoding": {
            "x": {"field": "lam", "type": "quantitative", "scale": {"domain": [816.3, 1482.2], "nice": false, "zero": false}},
            "y": {"field": "flux", "type": "quantitative", "scale": {"domain": [-0.81, 9.91], "nice": false, "zero": false}},
            "text": {"field": "label"}
          }
        },
        {
          "data": {"name": "upText"},
          "mark": {"type": "text", "font": "Liberation Sans", "fontSize": 35, "color": "#111111", "align": "center", "baseline": "middle", "angle": 270},
          "encoding": {
            "x": {"field": "lam", "type": "quantitative", "scale": {"domain": [816.3, 1482.2], "nice": false, "zero": false}},
            "y": {"field": "flux", "type": "quantitative", "scale": {"domain": [-0.81, 9.91], "nice": false, "zero": false}},
            "text": {"field": "label"}
          }
        }
      ]
    }
  ]
}
